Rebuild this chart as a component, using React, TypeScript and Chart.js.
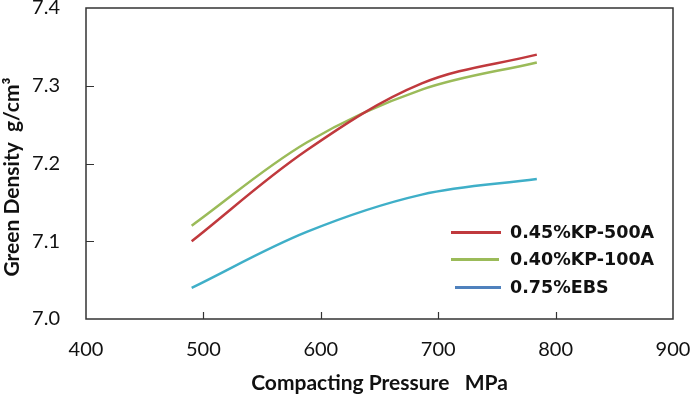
import React, { useEffect, useRef } from 'react';
import { Chart, registerables } from 'chart.js';

Chart.register(...registerables);

// ---- data ----
const pressures = [490, 588, 686, 784];
const kp500a = [7.1, 7.217, 7.303, 7.34];
const kp100a = [7.12, 7.227, 7.295, 7.33];
const ebs = [7.04, 7.112, 7.16, 7.18];
const seriesLabels = ['0.45%KP-500A', '0.40%KP-100A', '0.75%EBS'];
const xTickValues = [400, 500, 600, 700, 800, 900];
const yTickValues = [7.0, 7.1, 7.2, 7.3, 7.4];
const xTitle = 'Compacting Pressure   MPa';
const yTitle = 'Green Density  g/cm³';

// ---- styles ----
const lineColors = ['#C0393D', '#9BBB59', '#3FAFC8'];
const legendColors = ['#C0393D', '#9BBB59', '#4F81BD'];
const frameColor = '#333333';
const textColor = '#111111';

const framePlugin = {
  id: 'frameAndExtras',
  afterDraw(chart: any) {
    const { ctx, chartArea } = chart;
    const xs = chart.scales.x;
    const ys = chart.scales.y;
    ctx.save();
    // frame
    ctx.strokeStyle = frameColor;
    ctx.lineWidth = 1.5;
    ctx.strokeRect(chartArea.left, chartArea.top, chartArea.right - chartArea.left, chartArea.bottom - chartArea.top);
    // inward ticks
    ctx.lineWidth = 1.2;
    ctx.beginPath();
    yTickValues.slice(1, -1).forEach((v) => {
      const y = Math.round(ys.getPixelForValue(v)) + 0.5;
      ctx.moveTo(chartArea.left, y);
      ctx.lineTo(chartArea.left + 8, y);
    });
    xTickValues.slice(1, -1).forEach((v) => {
      const x = Math.round(xs.getPixelForValue(v)) + 0.5;
      ctx.moveTo(x, chartArea.bottom);
      ctx.lineTo(x, chartArea.bottom - 7);
    });
    ctx.stroke();
    // y title
    ctx.fillStyle = textColor;
    ctx.font = 'bold 21px Lato';
    ctx.textAlign = 'center';
    ctx.textBaseline = 'middle';
    ctx.translate(12, 177);
    ctx.rotate(-Math.PI / 2);
    ctx.fillText(yTitle, 0, 0);
    ctx.restore();

    // legend
    ctx.save();
    const rowYs = [232.5, 259.5, 287.5];
    ctx.font = 'bold 17.5px "DejaVu Sans"';
    ctx.textAlign = 'left';
    ctx.textBaseline = 'middle';
    chart.data.datasets.forEach((ds: any, i: number) => {
      const y = rowYs[i];
      ctx.strokeStyle = legendColors[i];
      ctx.lineWidth = 3;
      ctx.beginPath();
      ctx.moveTo(i === 2 ? 455 : 451, y);
      ctx.lineTo(i === 1 ? 499 : 501, y);
      ctx.stroke();
      ctx.fillStyle = textColor;
      ctx.fillText(ds.label, 510, y + 1);
    });
    ctx.restore();
  },
};

export default function App() {
  const canvasRef = useRef<HTMLCanvasElement | null>(null);

  useEffect(() => {
    document.body.style.margin = '0';
    const canvas = canvasRef.current;
    if (!canvas) return;
    const series = [kp500a, kp100a, ebs];
    const chart = new Chart(canvas, {
      type: 'line',
      data: {
        datasets: series.map((vals, i) => ({
          label: seriesLabels[i],
          data: pressures.map((p, j) => ({ x: p, y: vals[j] })),
          borderColor: lineColors[i],
          backgroundColor: lineColors[i],
          borderWidth: 2.5,
          pointRadius: 0,
          tension: 0.35,
          fill: false,
        })),
      },
      options: {
        responsive: false,
        animation: false,
        maintainAspectRatio: false,
        layout: { padding: { left: 0, top: 8, right: 17, bottom: 0 } },
        plugins: {
          legend: { display: false },
          tooltip: { enabled: false },
        },
        scales: {
          x: {
            type: 'linear',
            min: 400,
            max: 900,
            afterBuildTicks: (scale: any) => {
              scale.ticks = xTickValues.map((v) => ({ value: v }));
            },
            afterFit: (scale: any) => {
              scale.height = 77;
              scale.paddingLeft = 0;
              scale.paddingRight = 0;
            },
            grid: { display: false, drawTicks: false },
            border: { display: false },
            ticks: {
              font: { family: 'Lato', size: 20 },
              color: textColor,
              padding: 19,
              maxRotation: 0,
              callback: (v: any) => String(v),
            },
            title: {
              display: true,
              text: xTitle,
              font: { family: 'Lato', size: 21, weight: 'bold' },
              color: textColor,
              padding: { top: 0, bottom: 0 },
            },
          },
          y: {
            type: 'linear',
            min: 7.0,
            max: 7.4,
            afterBuildTicks: (scale: any) => {
              scale.ticks = yTickValues.map((v) => ({ value: v }));
            },
            afterFit: (scale: any) => {
              scale.width = 86;
              scale.paddingTop = 0;
              scale.paddingBottom = 0;
            },
            grid: { display: false, drawTicks: false },
            border: { display: false },
            ticks: {
              font: { family: 'Lato', size: 20 },
              color: textColor,
              padding: 26,
              callback: (v: any) => Number(v).toFixed(1),
            },
          },
        },
      },
      plugins: [framePlugin],
    });
    return () => chart.destroy();
  }, []);

  return (
    <div style={{ width: 690, height: 396, background: '#ffffff' }}>
      <canvas ref={canvasRef} width={690} height={396} style={{ display: 'block' }} />
    </div>
  );
}
